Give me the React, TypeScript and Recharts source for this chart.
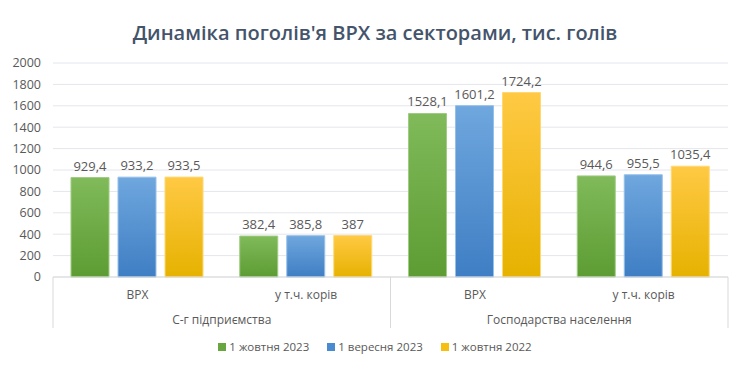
import React from "react";
import { BarChart, Bar, XAxis, YAxis, CartesianGrid, LabelList } from "recharts";

const title = "Динаміка поголів'я ВРХ за секторами, тис. голів";
const categories = ["ВРХ", "у т.ч. корів", "ВРХ", "у т.ч. корів"];
const groups = ["С-г підприємства", "С-г підприємства", "Господарства населення", "Господарства населення"];
const oct2023 = [929.4, 382.4, 1528.1, 944.6];
const sep2023 = [933.2, 385.8, 1601.2, 955.5];
const oct2022 = [933.5, 387, 1724.2, 1035.4];
const seriesNames = ["1 жовтня 2023", "1 вересня 2023", "1 жовтня 2022"];
const yTicks = [0, 200, 400, 600, 800, 1000, 1200, 1400, 1600, 1800, 2000];

const data = categories.map((c, i) => ({
  key: `${i}`,
  name: c,
  group: groups[i],
  a: oct2023[i],
  b: sep2023[i],
  c: oct2022[i],
}));

const FONT = "'Open Sans', 'Noto Sans', sans-serif";
const LINE = "#d9d9d9";
const fmt = (v: any) => String(v).replace(".", ",");

const CatTick = (props: any) => {
  const { x, y, payload, index } = props;
  const off = payload && typeof payload.offset === "number" ? payload.offset : 84.4;
  const lines: number[] = [];
  if (index === 0) lines.push(x - off);
  if (index === 2) lines.push(x - off);
  if (index === 3) lines.push(x + off);
  return (
    <g>
      <text x={x} y={y + 22} textAnchor="middle" fill="#595959" fontSize={12} fontFamily={FONT}>
        {categories[index]}
      </text>
      {lines.map((lx, i) => (
        <line key={i} x1={lx} x2={lx} y1={y} y2={y + 51} stroke={LINE} strokeWidth={1} />
      ))}
    </g>
  );
};

const GroupTick = (props: any) => {
  const { x, y, payload, index } = props;
  const off = payload && typeof payload.offset === "number" ? payload.offset : 84.4;
  if (index !== 0 && index !== 2) return <g />;
  return (
    <text x={x + off} y={y + 17} textAnchor="middle" fill="#595959" fontSize={12} fontFamily={FONT}>
      {groups[index]}
    </text>
  );
};

const colors = [
  { id: "gGreen", top: "#80ba5a", bottom: "#5d9c33", stroke: "#9fcb82", legend: "#68a73f" },
  { id: "gBlue", top: "#6fa7de", bottom: "#3f7ec4", stroke: "#95c0ea", legend: "#4a8ad0" },
  { id: "gYellow", top: "#ffc944", bottom: "#e6b200", stroke: "#ffd875", legend: "#f6be0f" },
];

export default function App() {
  return (
    <div style={{ position: "relative", width: 750, height: 372, margin: -8, background: "#fff", overflow: "hidden" }}>
      <div
        style={{
          position: "absolute",
          left: 5,
          top: 6,
          width: 738,
          height: 361,
          border: "1px solid #dcdde2",
          boxSizing: "border-box",
        }}
      />
      <div
        style={{
          position: "absolute",
          left: 0,
          width: 750,
          top: 18,
          textAlign: "center",
          fontFamily: FONT,
          fontWeight: 600,
          fontSize: 20,
          color: "#44546a",
          lineHeight: "30px",
        }}
      >
        {title}
      </div>
      <div style={{ position: "absolute", left: 0, top: 0 }}>
        <BarChart
          width={750}
          height={372}
          data={data}
          margin={{ top: 63, right: 22, bottom: 40, left: 0 }}
          barSize={38}
          barGap={9}
        >
          <defs>
            {colors.map((c) => (
              <linearGradient key={c.id} id={c.id} x1="0" y1="0" x2="0" y2="1">
                <stop offset="0%" stopColor={c.top} />
                <stop offset="100%" stopColor={c.bottom} />
              </linearGradient>
            ))}
          </defs>
          <CartesianGrid vertical={false} stroke="#e4e6ec" strokeWidth={1} />
          <YAxis
            width={53}
            domain={[0, 2000]}
            ticks={yTicks}
            interval={0}
            axisLine={false}
            tickLine={false}
            tickMargin={6}
            tick={{ fill: "#595959", fontSize: 12.5, fontFamily: FONT }}
          />
          <XAxis
            xAxisId="cat"
            dataKey="key"
            height={30}
            interval={0}
            tickSize={0}
            tickMargin={0}
            tickLine={false}
            axisLine={{ stroke: LINE }}
            tick={<CatTick />}
          />
          <XAxis
            xAxisId="grp"
            dataKey="key"
            height={25}
            interval={0}
            tickSize={0}
            tickMargin={0}
            tickLine={false}
            axisLine={false}
            tick={<GroupTick />}
          />
          {(["a", "b", "c"] as const).map((k, i) => (
            <Bar
              key={k}
              xAxisId="cat"
              dataKey={k}
              name={seriesNames[i]}
              fill={`url(#${colors[i].id})`}
              stroke={colors[i].stroke}
              strokeWidth={1}
              isAnimationActive={false}
            >
              <LabelList
                dataKey={k}
                position="top"
                offset={7}
                formatter={fmt}
                fill="#595959"
                fontSize={13}
                fontFamily={FONT}
              />
            </Bar>
          ))}
        </BarChart>
      </div>
      <div
        style={{
          position: "absolute",
          left: 0,
          width: 750,
          top: 338,
          display: "flex",
          justifyContent: "center",
          gap: 18,
          fontFamily: FONT,
          fontSize: 11.5,
          color: "#595959",
          lineHeight: "18px",
        }}
      >
        {seriesNames.map((n, i) => (
          <div key={n} style={{ display: "flex", alignItems: "center" }}>
            <span style={{ display: "inline-block", width: 8, height: 8, background: colors[i].legend, marginRight: 3 }} />
            <span>{n}</span>
          </div>
        ))}
      </div>
    </div>
  );
}
